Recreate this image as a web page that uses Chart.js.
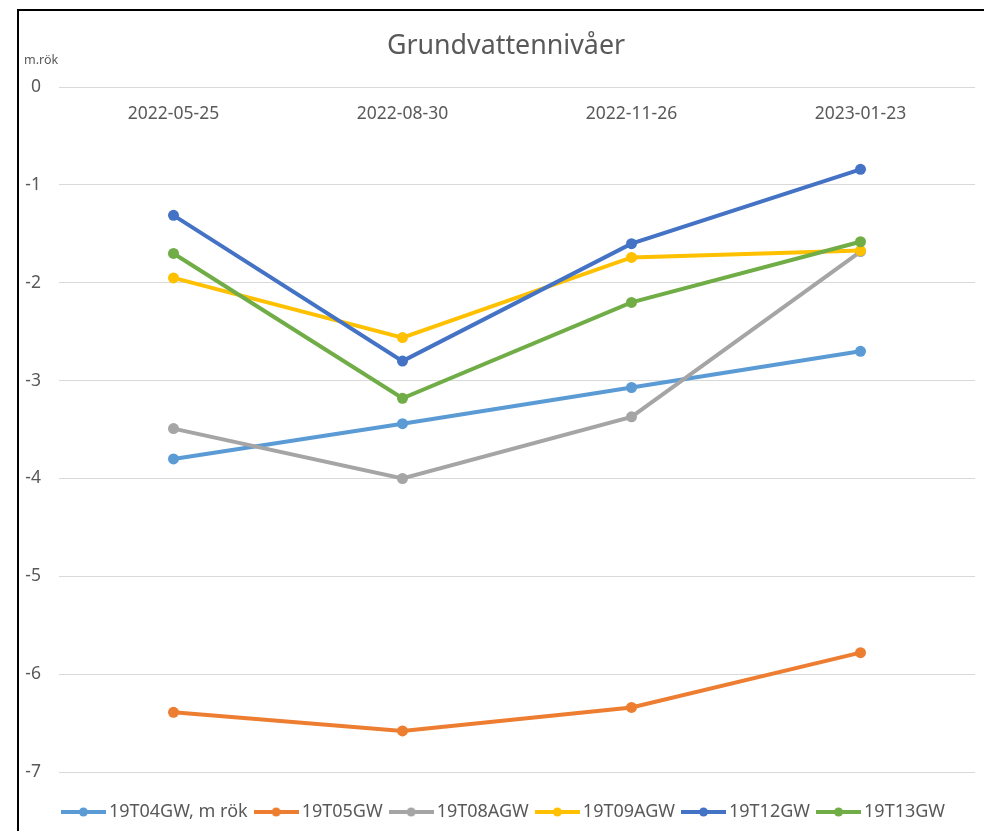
<!DOCTYPE html>
<html>
<head>
<meta charset="utf-8">
<script src="https://cdn.jsdelivr.net/npm/chart.js@4.4.0/dist/chart.umd.min.js"></script>
<style>
  html, body { margin: 0; padding: 0; background: #fff; overflow: hidden; }
  #frame {
    position: absolute; left: 17px; top: 9px;
    border-left: 2px solid #000; border-top: 2px solid #000;
    width: 988px; height: 830px; background: #fff;
  }
  #chartWrap { position: relative; width: 988px; height: 820px; }
</style>
</head>
<body>
<div id="frame">
  <div id="chartWrap"><canvas id="levels"></canvas></div>
</div>
<script>
// Provdatum (kategorier)
const dates = ["2022-05-25", "2022-08-30", "2022-11-26", "2023-01-23"];

// Grundvattennivå, m under rör
const gw04 = [-3.80, -3.44, -3.07, -2.70];
const gw05 = [-6.39, -6.58, -6.34, -5.78];
const gw08A = [-3.49, -4.00, -3.37, -1.68];
const gw09A = [-1.95, -2.56, -1.74, -1.67];
const gw12 = [-1.31, -2.80, -1.60, -0.84];
const gw13 = [-1.70, -3.18, -2.20, -1.58];

const seriesNames = ["19T04GW, m rök", "19T05GW", "19T08AGW", "19T09AGW", "19T12GW", "19T13GW"];
const seriesData = [gw04, gw05, gw08A, gw09A, gw12, gw13];
const seriesColors = ["#5B9BD5", "#ED7D31", "#A5A5A5", "#FFC000", "#4472C4", "#70AD47"];

const textColor = "#595959";
const fontFamily = "'Noto Sans', 'Open Sans', sans-serif";

// Legend marker: line with a dot in the middle, like Excel
function legendMarker(color) {
    const c = document.createElement("canvas");
    c.width = 45;
    c.height = 12;
    const g = c.getContext("2d");
    g.strokeStyle = color;
    g.lineWidth = 4;
    g.beginPath();
    g.moveTo(0, 6);
    g.lineTo(45, 6);
    g.stroke();
    g.fillStyle = color;
    g.beginPath();
    g.arc(22.5, 6, 4.5, 0, Math.PI * 2);
    g.fill();
    return c;
}

// Y axis unit label "m.rök" above the axis
const unitLabel = {
    id: "unitLabel",
    afterLayout(chart) {
        // let the tick labels use the space left of the padding
        chart.scales.y.left = 0;
    },
    afterDraw(chart) {
        const ctx = chart.ctx;
        ctx.save();
        ctx.font = "12.5px " + fontFamily;
        ctx.fillStyle = textColor;
        ctx.textAlign = "left";
        ctx.textBaseline = "middle";
        ctx.fillText("m.rök", 5, 49);
        ctx.restore();
    }
};

const datasets = seriesData.map((values, i) => ({
    label: seriesNames[i],
    data: values,
    borderColor: seriesColors[i],
    backgroundColor: seriesColors[i],
    pointBackgroundColor: seriesColors[i],
    pointBorderWidth: 0,
    pointRadius: 5.5,
    pointHoverRadius: 6,
    borderWidth: 4,
    tension: 0,
    order: seriesData.length - i,
    pointStyle: "circle"
}));

new Chart(document.getElementById("levels").getContext("2d"), {
    type: "line",
    data: {
        labels: dates,
        datasets: datasets
    },
    options: {
        responsive: true,
        maintainAspectRatio: false,
        animation: false,
        layout: {
            padding: { left: 18, right: 32, top: 0, bottom: 0 }
        },
        scales: {
            x: {
                position: { y: 0 },
                offset: true,
                grid: { display: false },
                border: { display: false },
                ticks: {
                    color: textColor,
                    padding: 8,
                    maxRotation: 0,
                    font: { family: fontFamily, size: 17.5 }
                }
            },
            y: {
                min: -7,
                max: 0,
                afterFit: (scale) => { scale.width = 22; },
                grid: { color: "#D9D9D9", lineWidth: 1, drawTicks: false },
                border: { display: false },
                ticks: {
                    stepSize: 1,
                    color: textColor,
                    padding: 18,
                    font: { family: fontFamily, size: 17.5 }
                }
            }
        },
        plugins: {
            title: {
                display: true,
                text: "Grundvattennivåer",
                color: textColor,
                font: { family: fontFamily, size: 26.8, weight: "normal" },
                padding: { top: 19, bottom: 25 }
            },
            legend: {
                position: "bottom",
                title: {
                    display: true,
                    text: "",
                    font: { size: 10 },
                    padding: { top: 7, bottom: 0 }
                },
                labels: {
                    usePointStyle: true,
                    pointStyleWidth: 33,
                    padding: 12,
                    color: textColor,
                    font: { family: fontFamily, size: 18 },
                    generateLabels(chart) {
                        return chart.data.datasets.map((ds, i) => ({
                            text: ds.label,
                            fillStyle: ds.borderColor,
                            strokeStyle: ds.borderColor,
                            lineWidth: 0,
                            pointStyle: legendMarker(ds.borderColor),
                            fontColor: textColor,
                            hidden: !chart.isDatasetVisible(i),
                            datasetIndex: i
                        }));
                    }
                }
            },
            tooltip: { enabled: false }
        }
    },
    plugins: [unitLabel]
});
</script>
</body>
</html>
